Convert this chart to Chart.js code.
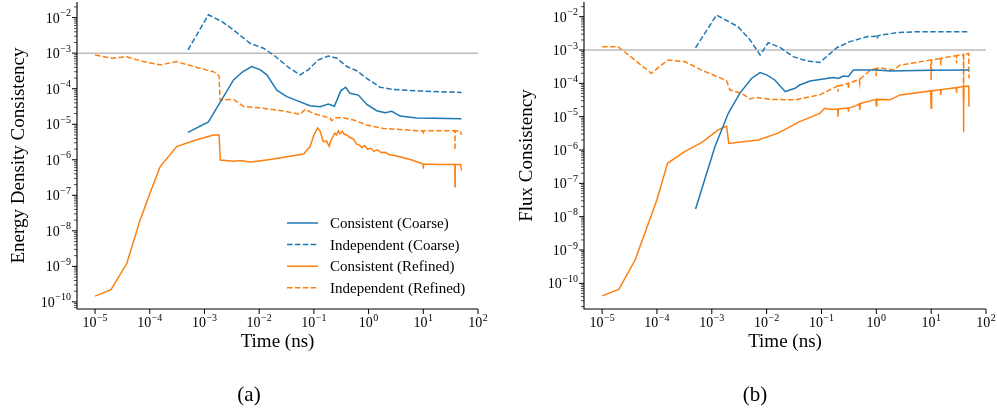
<!DOCTYPE html>
<html>
<head>
<meta charset="utf-8">
<script src="https://cdn.jsdelivr.net/npm/chart.js@4.4.1/dist/chart.umd.min.js"></script>
<style>
  html, body { margin: 0; padding: 0; background: #fff; }
  #wrap { position: relative; width: 997px; height: 411px; }
  canvas { position: absolute; top: 0; }
</style>
</head>
<body>
<div id="wrap">
  <canvas id="energyChart" width="498" height="411" style="left:0"></canvas>
  <canvas id="fluxChart" width="499" height="411" style="left:498px"></canvas>
</div>
<script>
// ---- energy density consistency (panel a) ----
const edTimeCoarseCons = [5e-4, 1.18e-3, 3.4e-3, 5.0e-3, 7.3e-3, 1.05e-2, 1.38e-2, 2.1e-2, 3.2e-2, 4.2e-2, 8.5e-2, 0.13, 0.184, 0.237, 0.31, 0.38, 0.457, 0.65, 0.93, 1.41, 2.0, 2.65, 3.77, 7.6, 15.3, 50];
const edCoarseCons = [5.9e-6, 1.17e-5, 1.76e-4, 3.0e-4, 4.2e-4, 3.4e-4, 2.45e-4, 9.1e-5, 6.0e-5, 5.1e-5, 3.3e-5, 3.1e-5, 3.7e-5, 3.2e-5, 8.7e-5, 1.1e-4, 7.4e-5, 6.6e-5, 3.6e-5, 2.4e-5, 2.1e-5, 2.3e-5, 1.7e-5, 1.5e-5, 1.48e-5, 1.43e-5];

const edTimeCoarseInd = [5e-4, 1.18e-3, 2.07e-3, 3.4e-3, 6.8e-3, 1.2e-2, 1.82e-2, 3.67e-2, 5.6e-2, 7.9e-2, 0.121, 0.184, 0.263, 0.4, 0.607, 0.925, 1.62, 2.84, 7.6, 50];
const edCoarseInd = [1.23e-3, 1.2e-2, 7.8e-3, 4.5e-3, 1.9e-3, 1.38e-3, 8.9e-4, 3.7e-4, 2.45e-4, 3.4e-4, 6.5e-4, 8.3e-4, 7.2e-4, 4.2e-4, 3.2e-4, 1.95e-4, 1.1e-4, 9.5e-5, 8.7e-5, 7.8e-5];

const edTimeRefCons = [1e-5, 1.96e-5, 3.8e-5, 6.65e-5, 1e-4, 1.54e-4, 3.1e-4, 6.5e-4, 1.46e-3, 1.85e-3, 1.95e-3, 3.4e-3, 4.5e-3, 6.8e-3, 1.0e-2, 1.58e-2, 6.5e-2, 8.5e-2, 0.1, 0.117, 0.13, 0.149, 0.17, 0.19, 0.205, 0.24, 0.26, 0.28, 0.3, 0.33, 0.36, 0.4, 0.45, 0.53, 0.6, 0.68, 0.75, 0.85, 0.95, 1.1, 1.25, 1.45, 1.7, 2.0, 2.4, 3.0, 4.0, 6.0, 9.9, 10.0, 10.1, 20, 37.8, 38, 38.3, 48, 50];
const edRefCons = [1.45e-10, 2.2e-10, 1.2e-9, 2.0e-8, 1.1e-7, 6.3e-7, 2.35e-6, 3.5e-6, 5.0e-6, 5.0e-6, 9.8e-7, 9.1e-7, 9.5e-7, 8.7e-7, 9.3e-7, 1.02e-6, 1.45e-6, 2.35e-6, 5.0e-6, 7.9e-6, 6.3e-6, 3.2e-6, 3.4e-6, 2.4e-6, 3.5e-6, 5.6e-6, 5.0e-6, 6.6e-6, 5.4e-6, 6.3e-6, 5.2e-6, 5.0e-6, 4.3e-6, 3.8e-6, 2.8e-6, 2.6e-6, 2.2e-6, 2.5e-6, 2.0e-6, 2.1e-6, 1.74e-6, 1.9e-6, 1.6e-6, 1.62e-6, 1.38e-6, 1.32e-6, 1.17e-6, 1.0e-6, 7.6e-7, 5.6e-7, 7.6e-7, 7.4e-7, 7.4e-7, 1.74e-7, 7.4e-7, 7.4e-7, 5.0e-7];

const edTimeRefInd = [1e-5, 2.04e-5, 3.8e-5, 7.6e-5, 1.55e-4, 3.1e-4, 6.3e-4, 1.46e-3, 1.85e-3, 1.93e-3, 3.4e-3, 5.1e-3, 1.2e-2, 2.77e-2, 5.6e-2, 6.9e-2, 0.1, 0.198, 0.21, 0.25, 0.324, 0.528, 0.927, 1.86, 7.6, 9.9, 10, 10.1, 37.8, 38, 38.3, 48, 50];
const edRefInd = [8.9e-4, 7.2e-4, 7.9e-4, 5.8e-4, 4.7e-4, 5.8e-4, 4.2e-4, 3.0e-4, 2.3e-4, 4.8e-5, 5.0e-5, 3.2e-5, 2.8e-5, 2.35e-5, 1.9e-5, 2.6e-5, 2.0e-5, 1.48e-5, 1.26e-5, 1.5e-5, 1.55e-5, 1.32e-5, 9.5e-6, 7.6e-6, 6.6e-6, 6.6e-6, 5.0e-6, 6.6e-6, 6.6e-6, 1.86e-6, 6.6e-6, 6.3e-6, 5.0e-6];

// ---- flux consistency (panel b) ----
const fxTimeCoarseCons = [5.06e-4, 1.14e-3, 2.0e-3, 3.24e-3, 5.3e-3, 7.6e-3, 1.0e-2, 1.41e-2, 2.19e-2, 2.63e-2, 3.3e-2, 4.0e-2, 6.2e-2, 0.108, 0.164, 0.204, 0.25, 0.31, 0.38, 1.0, 1.78, 9.5, 49];
const fxCoarseCons = [1.7e-8, 1.26e-6, 1.26e-5, 5.0e-5, 1.4e-4, 2.1e-4, 1.8e-4, 1.26e-4, 5.6e-5, 6.3e-5, 7.1e-5, 8.9e-5, 1.17e-4, 1.35e-4, 1.5e-4, 1.4e-4, 1.66e-4, 1.6e-4, 2.5e-4, 2.5e-4, 2.35e-4, 2.45e-4, 2.5e-4];

const fxTimeCoarseInd = [5.06e-4, 1.22e-3, 3.0e-3, 5.0e-3, 7.6e-3, 1.07e-2, 1.75e-2, 3.05e-2, 5.4e-2, 9.3e-2, 0.19, 0.33, 0.67, 1.0, 1.03, 1.08, 2.34, 4.7, 49];
const fxCoarseInd = [1.17e-3, 1.12e-2, 5.0e-3, 2.0e-3, 7.1e-4, 1.66e-3, 1.2e-3, 6.3e-4, 4.7e-4, 4.2e-4, 1.17e-3, 1.78e-3, 2.5e-3, 2.6e-3, 2.2e-3, 2.7e-3, 3.3e-3, 3.5e-3, 3.5e-3];

const fxTimeRefCons = [1e-5, 2.02e-5, 4e-5, 1e-4, 1.56e-4, 3.2e-4, 6.5e-4, 1.31e-3, 1.86e-3, 2.04e-3, 7.0e-3, 1.62e-2, 4.0e-2, 9.3e-2, 0.115, 0.14, 0.198, 0.2, 0.203, 0.305, 0.31, 0.315, 0.42, 0.49, 0.5, 0.51, 0.58, 0.98, 1.0, 1.02, 1.78, 2.7, 9.8, 10, 10.2, 14.8, 15, 15.2, 28.7, 29, 29.3, 38.7, 39, 39.3, 48.5, 49];
const fxRefCons = [4.2e-11, 6.6e-11, 5.0e-10, 3.2e-8, 4.0e-7, 8.9e-7, 1.66e-6, 4.0e-6, 5.2e-6, 1.58e-6, 2.0e-6, 3.2e-6, 7.1e-6, 1.26e-5, 1.78e-5, 1.66e-5, 1.7e-5, 1.0e-5, 1.7e-5, 1.82e-5, 1.41e-5, 1.82e-5, 2.1e-5, 2.4e-5, 1.58e-5, 2.5e-5, 2.6e-5, 3.3e-5, 2.1e-5, 3.3e-5, 3.2e-5, 4.5e-5, 5.9e-5, 1.78e-5, 5.9e-5, 6.5e-5, 4.5e-5, 6.5e-5, 7.4e-5, 5.2e-5, 7.4e-5, 8.1e-5, 3.4e-6, 8.1e-5, 8.3e-5, 2.0e-5];

const fxTimeRefInd = [1e-5, 1.95e-5, 7.9e-5, 1.58e-4, 3.2e-4, 6.5e-4, 1.86e-3, 2.14e-3, 3.5e-3, 5.0e-3, 6.2e-3, 1.23e-2, 3.3e-2, 9.3e-2, 0.198, 0.2, 0.203, 0.305, 0.31, 0.315, 0.49, 0.5, 0.51, 0.76, 0.98, 1.0, 1.02, 1.15, 2.04, 2.7, 9.8, 10, 10.2, 14.8, 15, 15.2, 28.7, 29, 29.3, 38.7, 39, 39.3, 48.5, 49];
const fxRefInd = [1.26e-3, 1.26e-3, 2.0e-4, 5.0e-4, 4.5e-4, 2.5e-4, 1.2e-4, 6.3e-5, 5.0e-5, 3.4e-5, 3.8e-5, 3.3e-5, 3.2e-5, 4.5e-5, 8.3e-5, 5.6e-5, 8.3e-5, 1.0e-4, 7.1e-5, 1.0e-4, 1.32e-4, 1.0e-4, 1.35e-4, 2.4e-4, 2.8e-4, 1.66e-4, 2.8e-4, 2.95e-4, 2.5e-4, 3.5e-4, 5.0e-4, 1.26e-4, 5.0e-4, 5.6e-4, 3.5e-4, 5.6e-4, 6.8e-4, 4.0e-4, 6.8e-4, 7.4e-4, 3.2e-5, 7.4e-4, 7.9e-4, 1.4e-4];

// tolerance line and axis decades
const tolerance = 1e-3;
const timeTickExps = [-5, -4, -3, -2, -1, 0, 1, 2];
const consTickExps = [-10, -9, -8, -7, -6, -5, -4, -3, -2];
const seriesLabels = ['Consistent (Coarse)', 'Independent (Coarse)', 'Consistent (Refined)', 'Independent (Refined)'];

const BLUE = '#1f77b4', ORANGE = '#ff7f0e';
const SERIF = '"Liberation Serif", "Times New Roman", serif';
const DASH = [5.5, 2.4];

function pts(times, vals) {
  return times.map((t, i) => ({ x: t, y: vals[i] }));
}

function series(label, times, vals, color, dashed) {
  return {
    label: label,
    data: pts(times, vals),
    borderColor: color,
    borderWidth: 1.5,
    borderDash: dashed ? DASH : [],
    pointRadius: 0,
    tension: 0,
    fill: false
  };
}

function toleranceLine(xMin, xMax) {
  return {
    label: 'tolerance',
    data: [{ x: xMin, y: tolerance }, { x: xMax, y: tolerance }],
    borderColor: '#bdbdbd',
    borderWidth: 1.5,
    pointRadius: 0,
    order: 10
  };
}

// "10" with a raised exponent, like mathtext tick labels
function drawPow(ctx, exp, x, y, align) {
  const base = '10';
  const sup = (exp < 0 ? '\u2212' : '') + Math.abs(exp);
  ctx.font = '14px ' + SERIF;
  const wb = ctx.measureText(base).width;
  ctx.font = '10px ' + SERIF;
  const ws = ctx.measureText(sup).width;
  const w = wb + 0.5 + ws;
  const x0 = align === 'center' ? x - w / 2 : x - w;
  ctx.textAlign = 'left';
  ctx.textBaseline = 'alphabetic';
  ctx.font = '14px ' + SERIF;
  ctx.fillText(base, x0, y);
  ctx.font = '10px ' + SERIF;
  ctx.fillText(sup, x0 + wb + 0.5, y - 6.5);
}

const logAxes = {
  id: 'logAxes',
  afterDraw(chart, args, o) {
    const { ctx, chartArea: a } = chart;
    const xs = chart.scales.x, ys = chart.scales.y;
    ctx.save();
    ctx.fillStyle = '#000';
    ctx.strokeStyle = '#000';
    ctx.lineWidth = 1.1;

    // left and bottom spines only
    ctx.beginPath();
    ctx.moveTo(a.left, a.top);
    ctx.lineTo(a.left, a.bottom);
    ctx.lineTo(a.right, a.bottom);
    ctx.stroke();

    // x ticks
    ctx.lineWidth = 1;
    timeTickExps.forEach(e => {
      const px = xs.getPixelForValue(Math.pow(10, e));
      ctx.beginPath();
      ctx.moveTo(px, a.bottom);
      ctx.lineTo(px, a.bottom + 5);
      ctx.stroke();
      drawPow(ctx, e, px, a.bottom + 18, 'center');
    });

    // y ticks, with minor ones in between
    const yMin = ys.min, yMax = ys.max;
    for (let e = -11; e <= -1; e++) {
      for (let k = 1; k <= 9; k++) {
        const v = k * Math.pow(10, e);
        if (v < yMin || v > yMax) continue;
        const py = ys.getPixelForValue(v);
        ctx.lineWidth = k === 1 ? 1 : 0.7;
        ctx.beginPath();
        ctx.moveTo(a.left, py);
        ctx.lineTo(a.left - (k === 1 ? 5 : 3), py);
        ctx.stroke();
      }
    }
    consTickExps.forEach(e => {
      const py = ys.getPixelForValue(Math.pow(10, e));
      drawPow(ctx, e, a.left - 6, py + 5, 'right');
    });

    // axis titles
    ctx.font = '19px ' + SERIF;
    ctx.textAlign = 'center';
    ctx.textBaseline = 'middle';
    ctx.fillText('Time (ns)', (a.left + a.right) / 2, 342);
    ctx.save();
    ctx.translate(o.yTitleX, (a.top + a.bottom) / 2);
    ctx.rotate(-Math.PI / 2);
    ctx.fillText(o.yTitle, 0, 0);
    ctx.restore();

    // panel tag
    ctx.font = '21px ' + SERIF;
    ctx.fillText(o.tag, o.tagX, 395);

    // legend
    if (o.legend) {
      const styles = [[BLUE, false], [BLUE, true], [ORANGE, false], [ORANGE, true]];
      ctx.font = '15px ' + SERIF;
      ctx.textAlign = 'left';
      seriesLabels.forEach((lab, i) => {
        const ly = 223 + i * 21.6;
        ctx.strokeStyle = styles[i][0];
        ctx.lineWidth = 1.5;
        ctx.setLineDash(styles[i][1] ? DASH : []);
        ctx.beginPath();
        ctx.moveTo(287, ly);
        ctx.lineTo(318, ly);
        ctx.stroke();
        ctx.setLineDash([]);
        ctx.fillStyle = '#000';
        ctx.fillText(lab, 330, ly + 1);
      });
    }
    ctx.restore();
  }
};

function baseOptions(pad, yMinExp, extra) {
  return {
    responsive: false,
    animation: false,
    layout: { padding: pad },
    plugins: {
      legend: { display: false },
      tooltip: { enabled: false },
      logAxes: extra
    },
    scales: {
      x: { type: 'logarithmic', display: false, min: Math.pow(10, -5.33), max: 100 },
      y: { type: 'logarithmic', display: false, min: Math.pow(10, yMinExp), max: Math.pow(10, -1.56) }
    }
  };
}

new Chart(document.getElementById('energyChart'), {
  type: 'line',
  data: {
    datasets: [
      series(seriesLabels[0], edTimeCoarseCons, edCoarseCons, BLUE, false),
      series(seriesLabels[1], edTimeCoarseInd, edCoarseInd, BLUE, true),
      series(seriesLabels[2], edTimeRefCons, edRefCons, ORANGE, false),
      series(seriesLabels[3], edTimeRefInd, edRefInd, ORANGE, true),
      toleranceLine(Math.pow(10, -5.33), 100)
    ]
  },
  options: baseOptions({ left: 77, right: 20, top: 2, bottom: 102 }, -10.2,
    { yTitle: 'Energy Density Consistency', yTitleX: 19.5, tag: '(a)', tagX: 249, legend: true }),
  plugins: [logAxes]
});

new Chart(document.getElementById('fluxChart'), {
  type: 'line',
  data: {
    datasets: [
      series(seriesLabels[0], fxTimeCoarseCons, fxCoarseCons, BLUE, false),
      series(seriesLabels[1], fxTimeCoarseInd, fxCoarseInd, BLUE, true),
      series(seriesLabels[2], fxTimeRefCons, fxRefCons, ORANGE, false),
      series(seriesLabels[3], fxTimeRefInd, fxRefInd, ORANGE, true),
      toleranceLine(Math.pow(10, -5.33), 100)
    ]
  },
  options: baseOptions({ left: 86, right: 11, top: 2, bottom: 102 }, -10.77,
    { yTitle: 'Flux Consistency', yTitleX: 29, tag: '(b)', tagX: 257, legend: false }),
  plugins: [logAxes]
});
</script>
</body>
</html>
